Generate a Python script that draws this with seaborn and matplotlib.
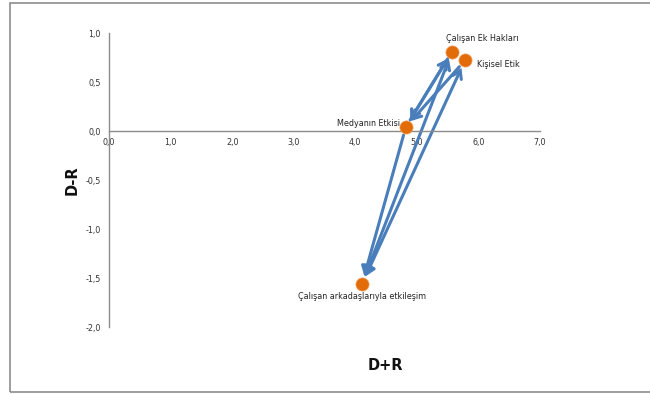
import matplotlib
matplotlib.use("Agg")
import matplotlib.pyplot as plt
import matplotlib.patches as mpatches
import seaborn as sns
import pandas as pd

# Factor positions on the D+R / D-R impact map
factors = ["Çalışan Ek Hakları", "Kişisel Etik", "Medyanın Etkisi",
           "Çalışan arkadaşlarıyla etkileşim"]
d_plus_r = [5.57, 5.78, 4.82, 4.11]
d_minus_r = [0.81, 0.72, 0.04, -1.56]

# Influence relations (source index, target index, arrow style)
edge_src = [3, 3, 2, 0, 1, 2]
edge_dst = [0, 1, 3, 2, 2, 0]
edge_style = ["<->", "<->", "->", "->", "->", "->"]

x_ticks = [0, 1, 2, 3, 4, 5, 6, 7]
y_ticks = [-2.0, -1.5, -1.0, -0.5, 0.0, 0.5, 1.0]

df = pd.DataFrame({"factor": factors, "DR_sum": d_plus_r, "DR_diff": d_minus_r})

sns.set_theme(style="white")
plt.rcParams["font.family"] = ["DejaVu Sans"]

fig = plt.figure(figsize=(6.5, 3.94), dpi=100)
ax = fig.add_axes([0.1677, 0.170, 0.6631, 0.7462])

# outer chart frame
fig.patches.append(mpatches.Rectangle((10 / 650, 2 / 394), 1.0, 389 / 394,
                                      transform=fig.transFigure, fill=False,
                                      edgecolor="#8c8c8c", linewidth=1.2))

arrow_color = "#4a7ebb"
for s, t, st in zip(edge_src, edge_dst, edge_style):
    ax.annotate("", xy=(d_plus_r[t], d_minus_r[t]),
                xytext=(d_plus_r[s], d_minus_r[s]),
                arrowprops=dict(arrowstyle=st + ",head_length=0.45,head_width=0.28",
                                color=arrow_color, lw=2.2,
                                shrinkA=6, shrinkB=6, capstyle="round",
                                joinstyle="miter"),
                zorder=2)

sns.scatterplot(data=df, x="DR_sum", y="DR_diff", ax=ax, s=90,
                color="#e36c0a", edgecolor="#f0a060", linewidth=0.5,
                zorder=3, legend=False)

label_fs = 5.8
ax.text(d_plus_r[0] - 0.1, d_minus_r[0] + 0.09, factors[0], fontsize=label_fs,
        ha="left", va="bottom", color="#222222")
ax.text(d_plus_r[1] + 0.2, d_minus_r[1] - 0.04, factors[1], fontsize=label_fs,
        ha="left", va="center", color="#222222")
ax.text(d_plus_r[2] - 0.1, d_minus_r[2] + 0.04, factors[2], fontsize=label_fs,
        ha="right", va="center", color="#222222")
ax.text(d_plus_r[3], d_minus_r[3] - 0.08, factors[3], fontsize=label_fs,
        ha="center", va="top", color="#222222")

ax.set_xlim(0, 7)
ax.set_ylim(-2, 1)
ax.set_xticks(x_ticks)
ax.set_yticks(y_ticks)
ax.set_xticklabels([f"{v:.1f}".replace(".", ",") for v in x_ticks])
ax.set_yticklabels([f"{v:.1f}".replace(".", ",") for v in y_ticks])
ax.tick_params(axis="both", length=0, labelsize=5.8, colors="#333333")
ax.tick_params(axis="x", pad=5)
ax.tick_params(axis="y", pad=6)

for side in ["top", "right"]:
    ax.spines[side].set_visible(False)
ax.spines["bottom"].set_position(("data", 0))
for side in ["left", "bottom"]:
    ax.spines[side].set_color("#8c8c8c")
    ax.spines[side].set_linewidth(1.0)

ax.set_xlabel("")
ax.set_ylabel("")
fig.text(385 / 650, 1 - 365 / 394, "D+R", fontsize=10.5, fontweight="bold",
         ha="center", va="center", color="#111111")
fig.text(72 / 650, 1 - 180 / 394, "D-R", fontsize=10.5, fontweight="bold",
         ha="center", va="center", rotation=90, color="#111111")

fig.savefig("out.png", dpi=100, facecolor="white")
